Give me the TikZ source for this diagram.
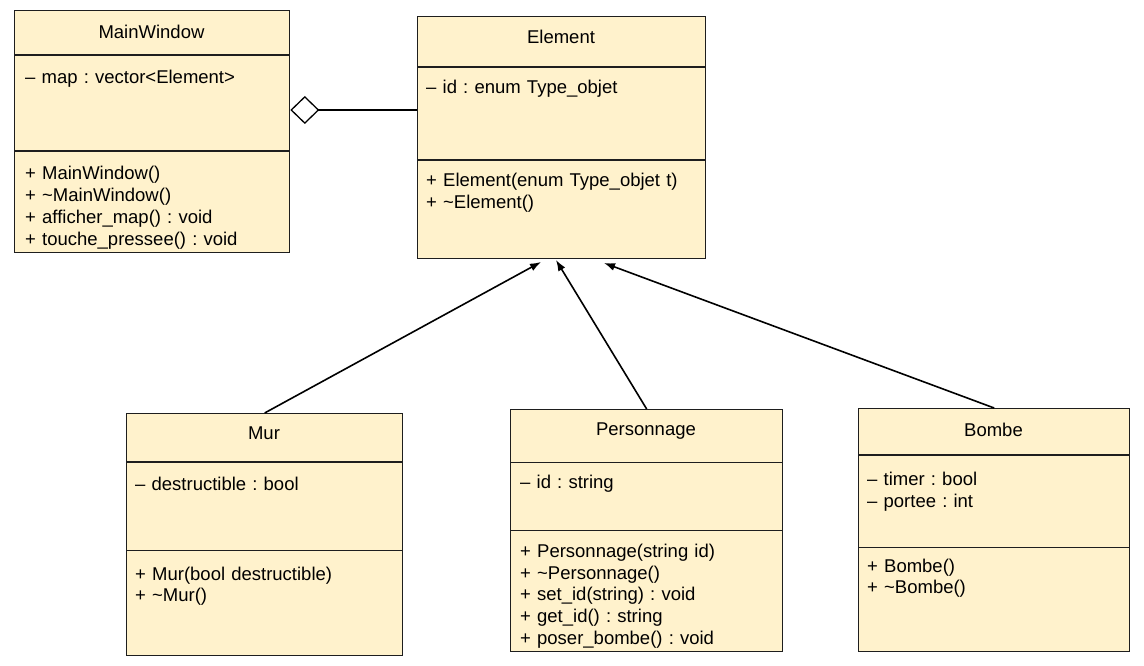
\documentclass[tikz,border=0pt]{standalone}
\usepackage{fontspec}
\setmainfont{Liberation Sans}
\usetikzlibrary{arrows.meta}
\frenchspacing
\definecolor{umlfill}{RGB}{255,242,204}
\definecolor{umlline}{RGB}{30,30,30}
\begin{document}
\begin{tikzpicture}[x=1pt,y=-1pt,
  classbox/.style={draw=umlline, line width=1.3pt, fill=umlfill, anchor=north west, inner sep=0pt},
  sepline/.style={draw=umlline, line width=1.3pt},
  ctitle/.style={anchor=base, inner sep=0pt, font=\fontsize{18.5}{21.7}\selectfont},
  members/.style={anchor=base west, align=left, text width=262pt, inner sep=0pt, font=\fontsize{18.5}{21.7}\selectfont},
  inherit/.style={draw=black, line width=1.6pt, -{Latex[length=11pt,width=8pt]}}]
\useasboundingbox (0,0) rectangle (1144,666);
% classes
\node[classbox, minimum width=275pt, minimum height=242pt] (mw) at (14,10) {};
\draw[sepline] (14,55) -- (289,55);
\draw[sepline] (14,151) -- (289,151);
\node[ctitle] (mwname) at (151.5,39) {MainWindow};
\node[members] (mwattr) at (25,83.5) {– map : vector<Element>};
\node[members] (mwops) at (25,180) {+ MainWindow()\\+ \textasciitilde MainWindow()\\+ afficher\_map() : void\\+ touche\_pressee() : void};

\node[classbox, minimum width=288pt, minimum height=242pt] (elem) at (417,16) {};
\draw[sepline] (417,67) -- (705,67);
\draw[sepline] (417,160) -- (705,160);
\node[ctitle] (elemname) at (561,43.3) {Element};
\node[members] (elemattr) at (426,93.5) {– id : enum Type\_objet};
\node[members] (elemops) at (426,186.7) {+ Element(enum Type\_objet t)\\+ \textasciitilde Element()};

\node[classbox, minimum width=276pt, minimum height=242pt] (mur) at (126,413) {};
\draw[sepline] (126,462) -- (402,462);
\draw[sepline] (126,550.5) -- (402,550.5);
\node[ctitle] (murname) at (264,439.3) {Mur};
\node[members] (murattr) at (135,490) {– destructible : bool};
\node[members] (murops) at (135,580) {+ Mur(bool destructible)\\+ \textasciitilde Mur()};

\node[classbox, minimum width=272pt, minimum height=242pt] (pers) at (510,409) {};
\draw[sepline] (510,462.3) -- (782,462.3);
\draw[sepline] (510,530.7) -- (782,530.7);
\node[ctitle] (persname) at (646,435) {Personnage};
\node[members] (persattr) at (520,488.3) {– id : string};
\node[members] (persops) at (520,557.3) {+ Personnage(string id)\\+ \textasciitilde Personnage()\\+ set\_id(string) : void\\+ get\_id() : string\\+ poser\_bombe() : void};

\node[classbox, minimum width=271pt, minimum height=243pt] (bombe) at (858,408) {};
\draw[sepline] (858,455) -- (1129,455);
\draw[sepline] (858,547.3) -- (1129,547.3);
\node[ctitle] (bombename) at (993.5,436.7) {Bombe};
\node[members] (bombeattr) at (867,485.7) {– timer : bool\\– portee : int};
\node[members] (bombeops) at (867,572) {+ Bombe()\\+ \textasciitilde Bombe()};

% relations
\coordinate (aggr) at (417,110);
\path[draw=black, line width=1.3pt, -{Diamond[open,length=29pt,width=28pt]}] (aggr) -- (mw.east |- aggr);
\coordinate (murtip) at (541,262);
\coordinate (perstip) at (556,260);
\coordinate (bombetip) at (604,263);
\path[inherit] (mur.north) -- (murtip);
\path[inherit] (pers.north) -- (perstip);
\path[inherit] (bombe.north) -- (bombetip);
\end{tikzpicture}
\end{document}
